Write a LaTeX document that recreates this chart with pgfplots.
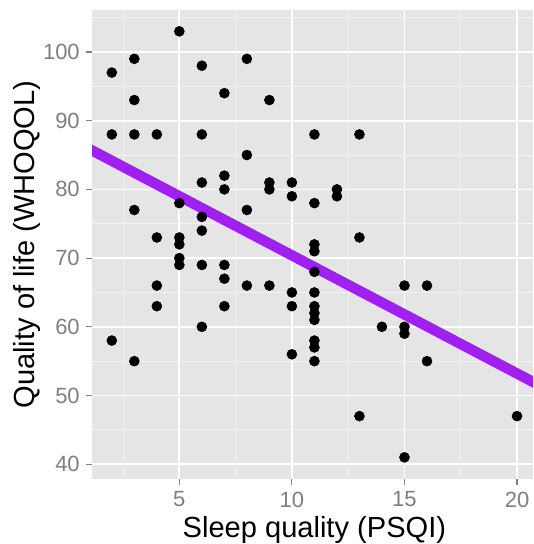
\documentclass[border=0pt]{standalone}
\usepackage{fontspec}
\setmainfont{Liberation Sans}
\usepackage{pgfplots}
\pgfplotsset{compat=1.18}
\definecolor{ggbg}{HTML}{E5E5E5}
\definecolor{ggminor}{HTML}{F2F2F2}
\definecolor{gg50}{HTML}{7F7F7F}
\definecolor{ggpurple}{HTML}{A020F0}
\begin{document}
\begin{tikzpicture}
\begin{axis}[name=ax, scale only axis, width=330.75pt, height=351.75pt,
  xmin=1.12, xmax=20.71, ymin=37.85, ymax=106.11,
  axis background/.style={fill=ggbg},
  axis line style={draw=none},
  xtick={5,10,15,20}, ytick={40,50,...,100},
  minor xtick={2.5,7.5,12.5,17.5}, minor ytick={45,55,...,105},
  grid=both,
  major grid style={white, line width=1.3pt},
  minor grid style={ggminor, line width=0.6pt},
  tick pos=left, tick align=outside,
  major tick length=4.5pt, minor tick length=0pt,
  major tick style={gg50, line width=0.8pt},
  /pgf/number format/assume math mode=true,
  ticklabel style={font=\fontsize{16.5}{18}\selectfont, text=gg50, inner sep=0pt},
  xticklabel style={anchor=north, yshift=-4.8pt},
  yticklabel style={anchor=east, xshift=-4.5pt},
  xlabel={Sleep quality (PSQI)}, ylabel={Quality of life (WHOQOL)},
  label style={font=\fontsize{21.8}{24}\selectfont, inner sep=0pt},
  xlabel style={at={(axis description cs:0.5043,-0.1248)}, anchor=base},
  ylabel style={at={(axis description cs:-0.1315,0.5)}, anchor=base},
]
\addplot[only marks, mark=*, mark size=3.75pt, black] coordinates {
(2,97) (2,88) (2,58)
(3,99) (3,93) (3,88) (3,77) (3,55)
(4,88) (4,73) (4,66) (4,63)
(5,103) (5,78) (5,73) (5,72) (5,70) (5,69)
(6,98) (6,88) (6,81) (6,76) (6,74) (6,69) (6,60)
(7,94) (7,82) (7,80) (7,69) (7,67) (7,63)
(8,99) (8,85) (8,77) (8,66)
(9,93) (9,81) (9,80) (9,66)
(10,81) (10,79) (10,65) (10,63) (10,56)
(11,88) (11,78) (11,72) (11,71) (11,68) (11,65) (11,63) (11,62) (11,61) (11,58) (11,57) (11,55)
(12,80) (12,79)
(13,88) (13,73) (13,47)
(14,60)
(15,66) (15,60) (15,59) (15,41)
(16,66) (16,55)
(20,47)
};
\addplot[ggpurple, line width=7.8pt] coordinates {(1.0,85.88) (21.0,51.48)};
\end{axis}
\pgfresetboundingbox
\path[use as bounding box] ([xshift=-69pt,yshift=-48.75pt]ax.south west) rectangle ([yshift=7.5pt]ax.north east);
\end{tikzpicture}
\end{document}
